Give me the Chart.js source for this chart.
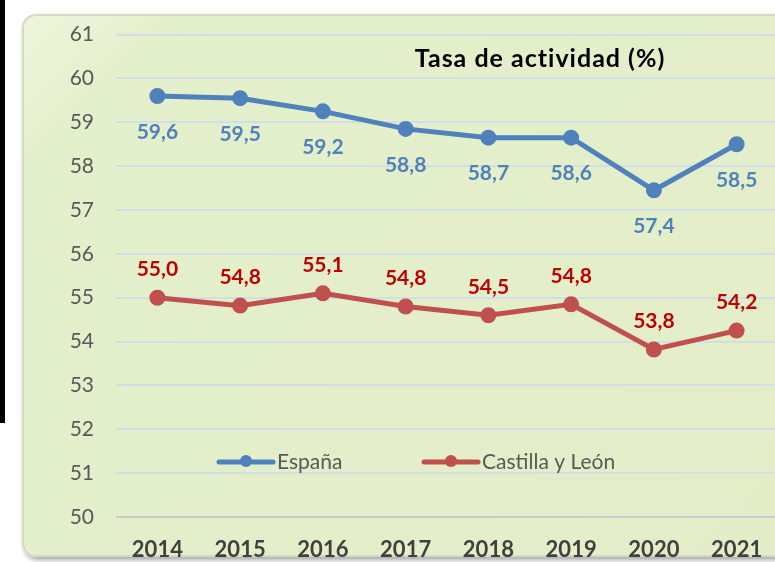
<!DOCTYPE html>
<html>
<head>
<meta charset="utf-8">
<script src="https://cdn.jsdelivr.net/npm/chart.js@4/dist/chart.umd.min.js"></script>
<style>
  html, body { margin: 0; padding: 0; background: #fff; }
  #wrap { position: relative; width: 775px; height: 562px; overflow: hidden; }
  #barra { position: absolute; left: 0; top: 0; width: 5px; height: 423px; background: #000; }
  #marco {
    position: absolute; left: 22px; top: 14px; width: 780px; height: 539px;
    border-radius: 14px; border: 2px solid #d3dbc4;
    background: linear-gradient(135deg, #eef5dc 0%, #e4efcb 12%, #e3eec9 100%);
    box-shadow: 2px 3px 5px rgba(0,0,0,0.35);
  }
  #lienzo { position: absolute; left: 0; top: 0; }
</style>
</head>
<body>
<div id="wrap">
  <div id="barra"></div>
  <div id="marco"></div>
  <canvas id="lienzo" width="800" height="562" style="width:800px;height:562px"></canvas>
</div>
<script>
// datos
const anios = ['2014', '2015', '2016', '2017', '2018', '2019', '2020', '2021'];
const espana = [59.6, 59.55, 59.25, 58.85, 58.65, 58.65, 57.45, 58.5];
const castilla = [55.0, 54.82, 55.1, 54.8, 54.6, 54.85, 53.82, 54.25];
const etiquetasEspana = ['59,6', '59,5', '59,2', '58,8', '58,7', '58,6', '57,4', '58,5'];
const etiquetasCastilla = ['55,0', '54,8', '55,1', '54,8', '54,5', '54,8', '53,8', '54,2'];

const fuente = 'Lato, "Open Sans", sans-serif';

// titulo, etiquetas de datos y leyenda dibujados a mano
const extras = {
    id: 'extras',
    afterDatasetsDraw(chart) {
        const c = chart.ctx;
        c.save();
        // titulo
        c.fillStyle = '#000';
        c.font = 'bold 25px ' + fuente;
        c.letterSpacing = '1px';
        c.textAlign = 'center';
        c.textBaseline = 'middle';
        c.fillText('Tasa de actividad (%)', 540, 59);
        c.letterSpacing = '0px';

        // etiquetas de valores
        c.font = 'bold 21px ' + fuente;
        chart.getDatasetMeta(0).data.forEach((p, i) => {
            c.fillStyle = '#4f81bd';
            c.fillText(etiquetasEspana[i], p.x, p.y + 36);
        });
        chart.getDatasetMeta(1).data.forEach((p, i) => {
            c.fillStyle = '#c00000';
            c.fillText(etiquetasCastilla[i], p.x, p.y - 28);
        });

        // leyenda
        const items = [
            { texto: 'España', color: '#4f81bd', x: 219 },
            { texto: 'Castilla y León', color: '#c0504d', x: 424 }
        ];
        const y = 462;
        items.forEach(it => {
            c.strokeStyle = it.color;
            c.lineWidth = 5;
            c.lineCap = 'round';
            c.beginPath();
            c.moveTo(it.x, y);
            c.lineTo(it.x + 54, y);
            c.stroke();
            c.fillStyle = it.color;
            c.beginPath();
            c.arc(it.x + 27, y - 1, 6, 0, Math.PI * 2);
            c.fill();
            c.fillStyle = '#595959';
            c.font = '21px ' + fuente;
            c.textAlign = 'left';
            c.fillText(it.texto, it.x + 58, y);
        });
        c.restore();
    }
};

new Chart(document.getElementById('lienzo'), {
    type: 'line',
    data: {
        labels: anios,
        datasets: [{
            label: 'España',
            data: espana,
            borderColor: '#4f81bd',
            backgroundColor: '#4f81bd',
            borderWidth: 5,
            pointRadius: 5.5,
            tension: 0
        },
        {
            label: 'Castilla y León',
            data: castilla,
            borderColor: '#c0504d',
            backgroundColor: '#c0504d',
            borderWidth: 5,
            pointRadius: 5.5,
            tension: 0
        }]
    },
    options: {
        responsive: false,
        animation: false,
        layout: { padding: { top: 33, right: 22, left: 0, bottom: 0 } },
        plugins: {
            legend: { display: false },
            tooltip: { enabled: false }
        },
        scales: {
            x: {
                offset: true,
                grid: { display: false },
                border: { display: false },
                ticks: {
                    color: '#404040',
                    font: { family: fuente, size: 22, weight: 'bold' },
                    padding: 12
                },
                afterFit: s => { s.height = 45; }
            },
            y: {
                min: 50,
                max: 61,
                ticks: {
                    stepSize: 1,
                    color: '#595959',
                    font: { family: fuente, size: 21 },
                    padding: 22
                },
                grid: {
                    drawTicks: false,
                    lineWidth: 2,
                    color: ctx => ctx.tick && ctx.tick.value === 50 ? '#cbcdca' : 'rgba(205,218,236,0.85)'
                },
                border: { display: false },
                afterFit: s => { s.width = 116; }
            }
        }
    },
    plugins: [extras]
});
</script>
</body>
</html>
